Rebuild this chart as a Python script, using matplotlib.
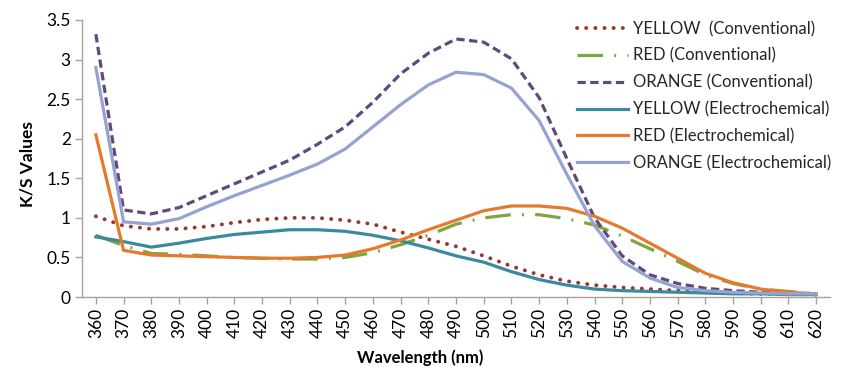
import matplotlib
matplotlib.use("Agg")
import matplotlib.pyplot as plt
import numpy as np

# Wavelengths (nm)
wavelength = [360, 370, 380, 390, 400, 410, 420, 430, 440, 450, 460, 470, 480, 490,
              500, 510, 520, 530, 540, 550, 560, 570, 580, 590, 600, 610, 620]

# K/S values
yellow_conv = [1.02, 0.90, 0.86, 0.86, 0.89, 0.94, 0.98, 1.00, 1.00, 0.97, 0.92, 0.82, 0.73,
               0.64, 0.52, 0.39, 0.28, 0.20, 0.15, 0.12, 0.10, 0.08, 0.06, 0.05, 0.04, 0.04, 0.03]
red_conv = [0.78, 0.65, 0.55, 0.54, 0.52, 0.50, 0.49, 0.48, 0.48, 0.50, 0.56, 0.66, 0.78,
            0.92, 1.00, 1.04, 1.04, 0.99, 0.91, 0.77, 0.61, 0.45, 0.28, 0.17, 0.10, 0.07, 0.04]
orange_conv = [3.32, 1.10, 1.05, 1.13, 1.28, 1.43, 1.58, 1.73, 1.93, 2.15, 2.46, 2.82, 3.08,
               3.26, 3.22, 3.01, 2.52, 1.75, 1.00, 0.52, 0.28, 0.17, 0.11, 0.08, 0.06, 0.05, 0.04]
yellow_elec = [0.76, 0.70, 0.63, 0.68, 0.74, 0.79, 0.82, 0.85, 0.85, 0.83, 0.78, 0.71, 0.62,
               0.52, 0.44, 0.32, 0.22, 0.15, 0.10, 0.08, 0.07, 0.06, 0.05, 0.04, 0.04, 0.03, 0.03]
red_elec = [2.05, 0.59, 0.53, 0.52, 0.51, 0.50, 0.49, 0.49, 0.50, 0.53, 0.61, 0.72, 0.85,
            0.97, 1.09, 1.15, 1.15, 1.12, 1.02, 0.87, 0.68, 0.49, 0.30, 0.18, 0.10, 0.06, 0.04]
orange_elec = [2.90, 0.95, 0.92, 0.99, 1.14, 1.28, 1.41, 1.54, 1.68, 1.87, 2.15, 2.43, 2.68,
               2.84, 2.81, 2.64, 2.23, 1.55, 0.90, 0.45, 0.24, 0.12, 0.08, 0.06, 0.05, 0.04, 0.04]

labels = ["YELLOW  (Conventional)", "RED (Conventional)", "ORANGE (Conventional)",
          "YELLOW (Electrochemical)", "RED (Electrochemical)", "ORANGE (Electrochemical)"]

plt.rcParams['font.family'] = ['Lato', 'DejaVu Sans']
plt.rcParams['text.color'] = '#262626'

fig = plt.figure(figsize=(8.43, 3.67), dpi=100)
ax = fig.add_axes([82 / 843, 1 - 297 / 367, (830 - 82) / 843, (297 - 20) / 367])

lw = 2.3
ax.plot(wavelength, yellow_conv, color='#983833', lw=2.8, linestyle=(0, (0.05, 2.3)),
        dash_capstyle='round', label=labels[0])
ax.plot(wavelength, red_conv, color='#7FA53F', lw=lw, linestyle=(0, (8, 3.5, 0.6, 3.5)),
        label=labels[1])
ax.plot(wavelength, orange_conv, color='#604A7B', lw=lw, linestyle=(0, (2.6, 1.4)),
        label=labels[2])
ax.plot(wavelength, yellow_elec, color='#3A8A9E', lw=lw, label=labels[3])
ax.plot(wavelength, red_elec, color='#E57A2E', lw=lw, label=labels[4])
ax.plot(wavelength, orange_elec, color='#95A3CE', lw=lw, label=labels[5])

ax.set_xlim(355, 625)
ax.set_ylim(0, 3.5)
ax.set_xticks(wavelength)
ax.set_xticklabels([str(w) for w in wavelength], rotation=90, fontsize=12.5)
ax.set_yticks(np.arange(0, 3.51, 0.5))
ax.set_yticklabels(['0', '0.5', '1', '1.5', '2', '2.5', '3', '3.5'], fontsize=12.5)

for side in ['top', 'right']:
    ax.spines[side].set_visible(False)
for side in ['left', 'bottom']:
    ax.spines[side].set_color('#A8A29A')
    ax.spines[side].set_linewidth(1.0)
ax.tick_params(axis='both', color='#A8A29A', length=5, width=1.0, pad=3)

ax.set_ylabel('K/S Values', fontsize=12.5, fontweight='bold')
ax.yaxis.set_label_coords(-0.062, 0.48)
ax.set_xlabel('Wavelength (nm)', fontsize=12, fontweight='bold')
ax.xaxis.set_label_coords(0.452, -0.19)

fig.legend(loc='upper left', bbox_to_anchor=(577 / 843, 1 - 21 / 367), frameon=False,
           fontsize=12, handlelength=3.05, handletextpad=0.3, labelspacing=0.64,
           borderpad=0, borderaxespad=0)

fig.savefig('out.png', dpi=100, facecolor='white')
